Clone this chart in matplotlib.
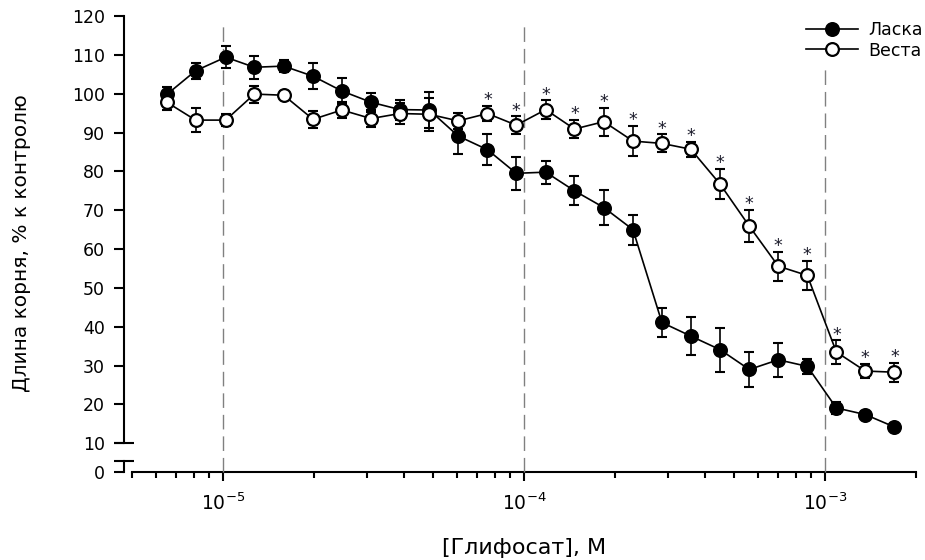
import matplotlib
matplotlib.use("Agg")
import matplotlib.pyplot as plt
from matplotlib.ticker import LogLocator, NullFormatter, FixedLocator

plt.rcParams['font.family'] = ['DejaVu Sans']

# ---- data ----
conc = [6.5e-6, 8.1e-6, 1.02e-5, 1.27e-5, 1.59e-5, 1.99e-5, 2.48e-5, 3.10e-5,
        3.87e-5, 4.84e-5, 6.04e-5, 7.55e-5, 9.42e-5, 1.18e-4, 1.47e-4, 1.84e-4,
        2.30e-4, 2.87e-4, 3.58e-4, 4.48e-4, 5.60e-4, 6.99e-4, 8.73e-4, 1.09e-3,
        1.36e-3, 1.70e-3]

laska = [99.8, 105.9, 109.4, 106.8, 107.1, 104.5, 100.7, 97.8, 95.9, 95.8,
         89.1, 85.6, 79.5, 79.8, 75.0, 70.7, 65.0, 41.1, 37.6, 34.1,
         29.0, 31.5, 29.8, 19.1, 17.4, 14.2]
laska_err = [2.0, 2.1, 2.9, 2.9, 1.5, 3.4, 3.4, 2.5, 2.6, 4.7,
             4.6, 3.9, 4.3, 3.0, 3.7, 4.5, 3.9, 3.8, 4.9, 5.7,
             4.6, 4.4, 2.0, 1.5, 1.0, 1.0]

vesta = [97.8, 93.2, 93.2, 99.9, 99.6, 93.4, 95.8, 93.6, 94.9, 94.7,
         93.0, 94.9, 91.9, 95.9, 90.9, 92.8, 87.8, 87.2, 85.7, 76.7,
         65.9, 55.6, 53.2, 33.5, 28.6, 28.3]
vesta_err = [1.9, 3.1, 1.5, 2.2, 1.0, 2.2, 2.0, 2.1, 2.6, 4.3,
             2.1, 1.9, 2.3, 2.4, 2.3, 3.6, 3.9, 2.3, 1.9, 3.9,
             4.2, 3.7, 3.7, 3.0, 1.9, 2.4]

# significance marks above the "Веста" points
star_idx = [11, 12, 13, 14, 15, 16, 17, 18, 19, 20, 21, 22, 23, 24, 25]

series_names = ["Ласка", "Веста"]
ref_lines = [1e-5, 1e-4, 1e-3]
yticks_top = [10, 20, 30, 40, 50, 60, 70, 80, 90, 100, 110, 120]
yticks_bot = [0]
x_label = "[Глифосат], М"
y_label = "Длина корня, % к контролю"

# ---- figure ----
W, H = 925, 560
fig = plt.figure(figsize=(W / 100, H / 100), dpi=100)

ax_l, ax_r = 132.5, 915.7
top_y0, top_y1 = 16.0, 443.3
bot_y0, bot_y1 = 461.0, 472.0
ax_w = ax_r - ax_l

ax_bot = fig.add_axes([ax_l / W, (H - bot_y1) / H, ax_w / W, (bot_y1 - bot_y0) / H])
ax_top = fig.add_axes([ax_l / W, (H - top_y1) / H, ax_w / W, (top_y1 - top_y0) / H],
                      sharex=ax_bot)

for ax in (ax_top, ax_bot):
    ax.patch.set_visible(False)
    for s in ('top', 'right'):
        ax.spines[s].set_visible(False)
    ax.spines['left'].set_position(('outward', 6.1))
    ax.spines['left'].set_linewidth(1.5)
    ax.tick_params(axis='y', direction='out', length=7.2, width=1.5,
                   pad=6.5, labelsize=12.5, colors='black')

ax_top.spines['bottom'].set_visible(False)
ax_top.tick_params(axis='x', which='both', bottom=False, labelbottom=False)

ax_bot.set_xscale('log')
ax_bot.set_xlim(5e-6, 2e-3)
ax_top.set_ylim(10, 120)
ax_bot.set_ylim(0, 2.83)
ax_top.yaxis.set_major_locator(FixedLocator(yticks_top))
ax_bot.yaxis.set_major_locator(FixedLocator(yticks_bot))

ax_bot.spines['bottom'].set_linewidth(1.5)
ax_bot.xaxis.set_major_locator(LogLocator(base=10, numticks=10))
ax_bot.xaxis.set_minor_locator(LogLocator(base=10, subs=[2, 3, 4, 5, 6, 7, 8, 9], numticks=20))
ax_bot.xaxis.set_minor_formatter(NullFormatter())
ax_bot.tick_params(axis='x', which='major', direction='out', length=6.5, width=1.5,
                   pad=8, labelsize=13.5)
ax_bot.tick_params(axis='x', which='minor', direction='out', length=4.3, width=1.5)

# break caps on y axis
cap_x = [-(8.5 + 10) / ax_w, (-8.5 + 10) / ax_w]
ax_top.plot(cap_x, [10, 10], color='black', lw=1.5, clip_on=False,
            transform=ax_top.get_yaxis_transform(), solid_capstyle='butt')
ax_bot.plot(cap_x, [2.83, 2.83], color='black', lw=1.5, clip_on=False,
            transform=ax_bot.get_yaxis_transform(), solid_capstyle='butt')

# dashed reference lines
yt = (top_y1 - 21) / (top_y1 - top_y0)
yb = (top_y1 - bot_y1) / (top_y1 - top_y0)
for xv in ref_lines:
    ax_top.plot([xv, xv], [yb, yt], transform=ax_top.get_xaxis_transform(),
                color='#808080', lw=1.0, linestyle=(0, (10.5, 5)), clip_on=False, zorder=1)

# data
ax_top.errorbar(conc, laska, yerr=laska_err, fmt='none', ecolor='black',
                elinewidth=1.2, capsize=3.6, capthick=1.5, zorder=2.0)
h1, = ax_top.plot(conc, laska, '-o', color='black', lw=1.2, ms=9.6,
                  mfc='black', mec='black', mew=1.2, zorder=2.1, label=series_names[0])
ax_top.errorbar(conc, vesta, yerr=vesta_err, fmt='none', ecolor='black',
                elinewidth=1.2, capsize=3.6, capthick=1.5, zorder=2.2)
h2, = ax_top.plot(conc, vesta, '-o', color='black', lw=1.2, ms=9.2,
                  mfc='white', mec='black', mew=1.6, zorder=2.3, label=series_names[1])

for i in star_idx:
    ax_top.annotate('*', (conc[i], vesta[i] + vesta_err[i]), xytext=(0, 0.5),
                    textcoords='offset points', ha='center', va='baseline',
                    fontsize=12.5, color='#1a1a2a', zorder=4)

leg = ax_top.legend(handles=[h1, h2], loc='upper right',
                    bbox_to_anchor=(930 / W, 1 - 14 / H), bbox_transform=fig.transFigure,
                    fontsize=12.5, frameon=True, framealpha=1, facecolor='white',
                    edgecolor='none', handlelength=3.0, handletextpad=0.6,
                    labelspacing=0.15, borderpad=0.4, borderaxespad=0, numpoints=1)
leg.get_frame().set_linewidth(0)
leg.set_zorder(5)

fig.text((ax_l + ax_r) / 2 / W, 1 - 548 / H, x_label, ha='center', va='center', fontsize=16)
fig.text(22 / W, 1 - 243 / H, y_label, ha='center', va='center', rotation=90, fontsize=14.5)

fig.savefig('out.png', dpi=100)
